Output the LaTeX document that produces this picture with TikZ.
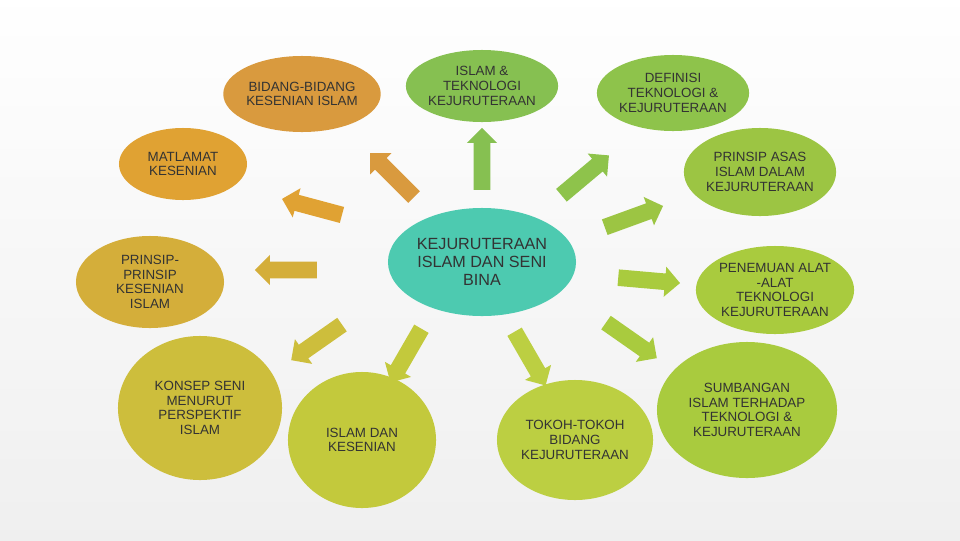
\documentclass[tikz,border=0pt]{standalone}
\usepackage{fontspec}
\setmainfont{Liberation Sans}
\usetikzlibrary{shapes.geometric,shapes.arrows}
\definecolor{orgA}{HTML}{D99A3E}
\definecolor{orgB}{HTML}{E0A233}
\definecolor{ylwA}{HTML}{D4AE3A}
\definecolor{ylwB}{HTML}{CDBE3C}
\definecolor{limA}{HTML}{C3C93C}
\definecolor{limB}{HTML}{BCCF42}
\definecolor{limC}{HTML}{A9CB3E}
\definecolor{grnA}{HTML}{86C051}
\definecolor{grnB}{HTML}{8EC34B}
\definecolor{grnC}{HTML}{9CC543}
\definecolor{teal}{HTML}{4DCAB0}
\begin{document}
\begin{tikzpicture}[x=0.025cm,y=-0.025cm,
topicnode/.style={ellipse, inner sep=0pt, font=\fontsize{9.5}{10.5}\selectfont, align=center, text=black!80},
arrownode/.style={single arrow, inner xsep=0pt, inner ysep=0.2cm, minimum height=1.55cm, single arrow head extend=0.17cm, single arrow head indent=0pt},
]
\shade[top color=white, bottom color=black!15] (0,0) rectangle (960,540);
\shade[inner color=white, outer color=white, opacity=0.6] (0,0) rectangle (960,540);
\useasboundingbox (0,0) rectangle (960,540);
%Nodes
\node[topicnode, fill=teal, minimum width=4.7cm, minimum height=2.7cm, font=\fontsize{11.5}{13}\selectfont] (core) at (482,262) {KEJURUTERAAN\\ISLAM DAN SENI\\BINA};
\node[topicnode, fill=orgA, minimum width=3.9cm, minimum height=1.9cm] (bidang) at (302,94) {BIDANG-BIDANG\\KESENIAN ISLAM};
\node[topicnode, fill=grnA, minimum width=3.5cm, minimum height=1.8cm] (islamtek) at (482,86) {ISLAM \&\\TEKNOLOGI\\KEJURUTERAAN};
\node[topicnode, fill=grnB, minimum width=3.8cm, minimum height=1.9cm] (definisi) at (673,93) {DEFINISI\\TEKNOLOGI \&\\KEJURUTERAAN};
\node[topicnode, fill=orgB, minimum width=3.2cm, minimum height=1.8cm] (matlamat) at (183,164) {MATLAMAT\\KESENIAN};
\node[topicnode, fill=grnC, minimum width=3.4cm, minimum height=2.2cm] (asas) at (760,172) {PRINSIP ASAS\\ISLAM DALAM\\KEJURUTERAAN};
\node[topicnode, fill=ylwA, minimum width=3.7cm, minimum height=2.3cm] (prinsip) at (150,282) {PRINSIP-\\PRINSIP\\KESENIAN\\ISLAM};
\node[topicnode, fill=limC, minimum width=3.4cm, minimum height=2.2cm] (penemuan) at (775,290) {PENEMUAN ALAT\\-ALAT\\TEKNOLOGI\\KEJURUTERAAN};
\node[topicnode, fill=ylwB, minimum width=4.1cm, minimum height=3.6cm] (konsep) at (200,408) {KONSEP SENI\\MENURUT\\PERSPEKTIF\\ISLAM};
\node[topicnode, fill=limA, minimum width=3.7cm, minimum height=3.4cm] (kesenian) at (362,440) {ISLAM DAN\\KESENIAN};
\node[topicnode, fill=limB, minimum width=3.9cm, minimum height=3cm] (tokoh) at (575,440) {TOKOH-TOKOH\\BIDANG\\KEJURUTERAAN};
\node[topicnode, fill=limC, minimum width=4.5cm, minimum height=3.4cm] (sumbangan) at (747,410) {SUMBANGAN\\ISLAM TERHADAP\\TEKNOLOGI \&\\KEJURUTERAAN};

%Arrows
\node[arrownode, fill=orgA, rotate=135] (a1) at (395,178) {};
\node[arrownode, fill=grnA, rotate=90] (a2) at (482,163) {};
\node[arrownode, fill=grnB, rotate=40] (a3) at (582,178) {};
\node[arrownode, fill=orgB, rotate=165] (a4) at (316,208) {};
\node[arrownode, fill=grnC, rotate=20] (a5) at (630,218) {};
\node[arrownode, fill=ylwA, rotate=180] (a6) at (290,270) {};
\node[arrownode, fill=limC, rotate=-5] (a7) at (645,280) {};
\node[arrownode, fill=ylwB, rotate=215] (a8) at (320,340) {};
\node[arrownode, fill=limA, rotate=240] (a9) at (408,352) {};
\node[arrownode, fill=limB, rotate=-60] (a10) at (528,355) {};
\node[arrownode, fill=limC, rotate=-35] (a11) at (628,338) {};
\end{tikzpicture}
\end{document}
